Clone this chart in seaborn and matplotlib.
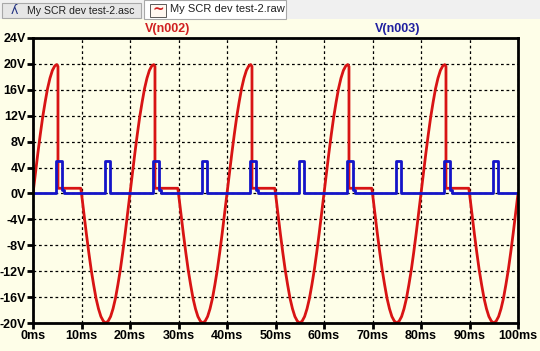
import numpy as np
import pandas as pd
import matplotlib.pyplot as plt
import seaborn as sns
from matplotlib.patches import Rectangle

# one 20 ms period of each trace
red_t = [0, 0.5, 1, 1.5, 2, 2.5, 3, 3.5, 4, 4.5, 4.9, 5.15, 5.15, 9.85,
         10, 10.5, 11, 11.5, 12, 12.5, 13, 13.5, 14, 14.5, 15,
         15.5, 16, 16.5, 17, 17.5, 18, 18.5, 19, 19.5, 20]
red_v = [0, 3.1, 6.2, 9.1, 11.8, 14.1, 16.2, 17.8, 19.0, 19.7, 19.9, 19.6, 0.8, 0.8,
         0, -3.1, -6.2, -9.1, -11.8, -14.1, -16.2, -17.8, -19.0, -19.7, -20,
         -19.7, -19.0, -17.8, -16.2, -14.1, -11.8, -9.1, -6.2, -3.1, 0]

blue_t = [0, 4.8, 4.8, 5.9, 5.9, 6.3, 6.3, 14.8, 14.8, 15.9, 15.9, 20]
blue_v = [0, 0, 5, 5, 0.5, 0.5, 0, 0, 5, 5, 0, 0]

n_periods = 5
period_ms = 20

x_ticks = list(range(0, 101, 10))
y_ticks = list(range(-20, 25, 4))

rows = []
for k in range(n_periods):
    for t, v in zip(red_t, red_v):
        rows.append(("V(n002)", t + k * period_ms, v))
for k in range(n_periods):
    for t, v in zip(blue_t, blue_v):
        rows.append(("V(n003)", t + k * period_ms, v))
df = pd.DataFrame(rows, columns=["trace", "time", "volt"])

bg = "#fefee8"
W, H = 540, 351
fig = plt.figure(figsize=(W / 100, H / 100), dpi=100, facecolor=bg)

# tab strip on top
fig.patches.append(Rectangle((0, 1 - 19 / H), 1, 19 / H, transform=fig.transFigure,
                             facecolor="#f0f0f0", edgecolor="none", zorder=0))
fig.patches.append(Rectangle((2 / W, 1 - 18 / H), 139 / W, 15 / H, transform=fig.transFigure,
                             facecolor="#e6e6e6", edgecolor="#a8a8a8", lw=0.8, zorder=1))
fig.patches.append(Rectangle((144 / W, 1 - 19 / H), 142 / W, 19 / H, transform=fig.transFigure,
                             facecolor="#ffffff", edgecolor="#a8a8a8", lw=0.8, zorder=1))
fig.text(27 / W, 1 - 11 / H, "My SCR dev test-2.asc", fontsize=7.6, family="Liberation Sans",
         va="center", ha="left", color="#202020")
fig.text(170 / W, 1 - 9 / H, "My SCR dev test-2.raw", fontsize=8, family="Liberation Sans",
         va="center", ha="left", color="#202020")
fig.text(14 / W, 1 - 11 / H, "ʎ", fontsize=9, color="#203080", ha="center", va="center")
fig.patches.append(Rectangle((150 / W, 1 - 17 / H), 16 / W, 13 / H, transform=fig.transFigure,
                             facecolor="#fff8f0", edgecolor="#404040", lw=0.6, zorder=2))
fig.text(158 / W, 1 - 10 / H, "~", fontsize=10, color="#d02020", ha="center", va="center",
         fontweight="bold", zorder=3)

ax = fig.add_axes([33 / W, 1 - 323 / H, 485 / W, 285 / H])
ax.set_facecolor(bg)

sns.lineplot(data=df, x="time", y="volt", hue="trace", estimator=None, sort=False,
             units="trace", palette={"V(n002)": "#d81414", "V(n003)": "#1414c8"},
             linewidth=2.0, legend=False, ax=ax)

ax.set_xlim(0, 100)
ax.set_ylim(-20, 24)
ax.set_xticks(x_ticks)
ax.set_yticks(y_ticks)
ax.set_xticklabels([f"{t}ms" for t in x_ticks])
ax.set_yticklabels([f"{v}V" for v in y_ticks])
ax.set_xlabel("")
ax.set_ylabel("")
ax.grid(True, color="black", linestyle=(0, (2.2, 2.2)), linewidth=0.9)
ax.set_axisbelow(True)
for s in ax.spines.values():
    s.set_linewidth(2)
    s.set_color("black")
ax.tick_params(direction="out", length=4, width=2, color="black", pad=1)
for lab in ax.get_xticklabels() + ax.get_yticklabels():
    lab.set_fontweight("bold")
    lab.set_fontsize(9)
    lab.set_family("Liberation Sans")

fig.text(168 / W, 1 - 29 / H, "V(n002)", color="#d02020", fontsize=9, fontweight="bold",
         family="Liberation Sans", ha="center", va="center")
fig.text(398 / W, 1 - 29 / H, "V(n003)", color="#2020a0", fontsize=9, fontweight="bold",
         family="Liberation Sans", ha="center", va="center")

fig.savefig("out.png", dpi=100, facecolor=bg)
